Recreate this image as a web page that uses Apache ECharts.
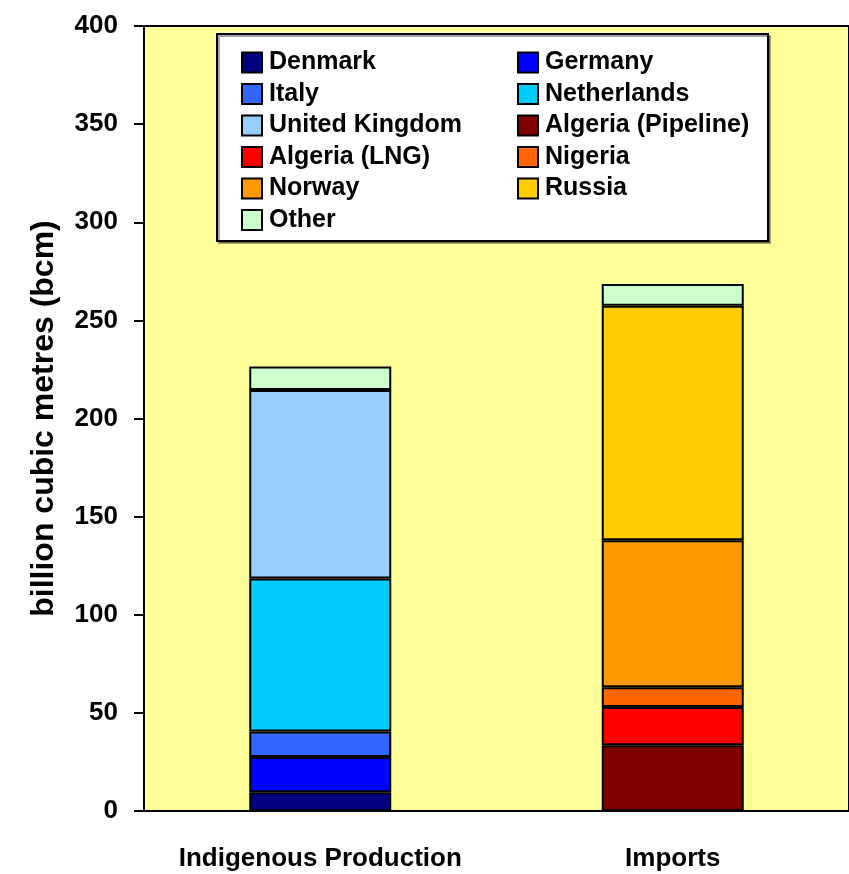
<!DOCTYPE html>
<html>
<head>
<meta charset="utf-8">
<script src="https://cdn.jsdelivr.net/npm/echarts@6/dist/echarts.min.js"></script>
<style>html,body{margin:0;padding:0;background:#fff}#c{width:849px;height:874px}</style>
</head>
<body>
<div id="c"></div>
<script>
const categories = ['Indigenous Production', 'Imports'];
const seriesNames = ['Denmark','Germany','Italy','Netherlands','United Kingdom','Algeria (Pipeline)','Algeria (LNG)','Nigeria','Norway','Russia','Other'];
const denmark = [9.5, null];
const germany = [18, null];
const italy = [13, null];
const netherlands = [78, null];
const unitedKingdom = [96, null];
const algeriaPipeline = [null, 33.5];
const algeriaLNG = [null, 19.5];
const nigeria = [null, 10];
const norway = [null, 75];
const russia = [null, 119.5];
const other = [12, 11];
const seriesValues = [denmark, germany, italy, netherlands, unitedKingdom, algeriaPipeline, algeriaLNG, nigeria, norway, russia, other];
const colors = ['#000080','#0000FF','#3366FF','#00CCFF','#99CCFF','#800000','#FF0000','#FF6600','#FF9900','#FFCC00','#CCFFCC'];
const legendLeft = ['Denmark','Italy','United Kingdom','Algeria (LNG)','Norway','Other'];
const legendRight = ['Germany','Netherlands','Algeria (Pipeline)','Nigeria','Russia'];

const sans = "'Liberation Sans',Arial,sans-serif";

const chart = echarts.init(document.getElementById('c'), null, {renderer: 'canvas'});
const legendCommon = {
  orient: 'vertical',
  top: 45,
  itemWidth: 20,
  itemHeight: 20,
  itemGap: 6.5,
  icon: 'rect',
  selectedMode: false,
  textStyle: {fontFamily: sans, fontWeight: 'bold', fontSize: 25, color: '#000', padding: [0,0,0,2]}
};
chart.setOption({
  animation: false,
  backgroundColor: '#fff',
  grid: {left: 144, right: -2, top: 26, bottom: 63, show: true, backgroundColor: '#FFFF99', borderColor: '#000', borderWidth: 2},
  graphic: [{
    type: 'rect', left: 216, top: 33, z: 90,
    shape: {width: 551, height: 207},
    style: {fill: '#fff', stroke: '#000', lineWidth: 2, shadowColor: 'rgba(0,0,0,0.35)', shadowOffsetX: 2, shadowOffsetY: 2, shadowBlur: 0}
  }],
  legend: [
    Object.assign({}, legendCommon, {left: 236, data: legendLeft, z: 100}),
    Object.assign({}, legendCommon, {left: 512, data: legendRight, z: 100})
  ],
  xAxis: {
    type: 'category',
    data: categories,
    axisLine: {lineStyle: {color: '#000', width: 2}},
    axisTick: {length: 10, lineStyle: {color: '#000', width: 2}},
    axisLabel: {interval: 0, fontFamily: sans, fontWeight: 'bold', fontSize: 26, color: '#000', margin: 35}
  },
  yAxis: {
    type: 'value', min: 0, max: 400, interval: 50,
    name: 'billion cubic metres (bcm)',
    nameLocation: 'middle', nameGap: 84, nameRotate: 90,
    nameTextStyle: {fontFamily: sans, fontWeight: 'bold', fontSize: 32, color: '#000'},
    axisLine: {show: true, lineStyle: {color: '#000', width: 2}},
    axisTick: {show: true, length: 10, lineStyle: {color: '#000', width: 2}},
    splitLine: {show: false},
    axisLabel: {fontFamily: sans, fontWeight: 'bold', fontSize: 26, color: '#000', margin: 26}
  },
  series: seriesNames.map((n, i) => ({
    name: n,
    type: 'bar',
    stack: 'total',
    barWidth: 142,
    data: seriesValues[i],
    itemStyle: {color: colors[i], borderColor: '#000', borderWidth: 2}
  }))
});
</script>
</body>
</html>
